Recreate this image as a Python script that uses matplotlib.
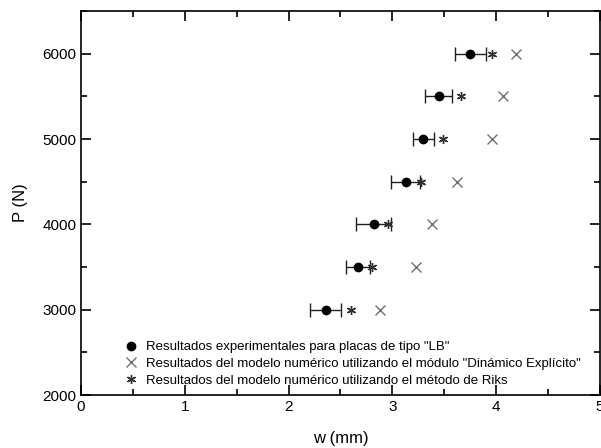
import matplotlib.pyplot as plt
from matplotlib.ticker import MultipleLocator

plt.rcParams['font.family'] = ['Liberation Sans', 'DejaVu Sans']

# load levels (N)
P = [3000, 3500, 4000, 4500, 5000, 5500, 6000]
# experimental deflection (mm) and its error
w_exp = [2.36, 2.67, 2.82, 3.13, 3.30, 3.45, 3.75]
w_err = [0.15, 0.12, 0.17, 0.14, 0.10, 0.13, 0.15]
# numerical: dynamic explicit
w_dyn = [2.88, 3.23, 3.38, 3.62, 3.96, 4.07, 4.19]
# numerical: Riks
w_riks = [2.60, 2.80, 2.96, 3.28, 3.49, 3.66, 3.96]

fig = plt.figure(figsize=(6.01, 4.48), dpi=100)
ax = fig.add_axes([0.1348, 0.1183, 0.8632, 0.8571])

ax.errorbar(w_exp, P, xerr=w_err, fmt='none', ecolor='#202020', elinewidth=1,
            capsize=5, capthick=1, zorder=2)
ax.plot(w_exp, P, 'o', color='black', markersize=6, linestyle='none', zorder=3,
        label='Resultados experimentales para placas de tipo "LB"')
ax.plot(w_dyn, P, 'x', color='#707070', markersize=6.5, markeredgewidth=1,
        linestyle='none', label='Resultados del modelo numérico utilizando el módulo "Dinámico Explícito"')
ax.plot(w_riks, P, marker=(6, 2, 0), color='#303030', markersize=6.5, markeredgewidth=1,
        linestyle='none', zorder=4, label='Resultados del modelo numérico utilizando el método de Riks')

ax.set_xlim(0, 5)
ax.set_ylim(2000, 6500)
ax.xaxis.set_major_locator(MultipleLocator(1))
ax.xaxis.set_minor_locator(MultipleLocator(0.5))
ax.yaxis.set_major_locator(MultipleLocator(1000))
ax.yaxis.set_minor_locator(MultipleLocator(500))
ax.tick_params(which='both', direction='in', top=True, right=True, width=1.2, labelsize=11)
ax.tick_params(which='major', length=7)
ax.tick_params(which='minor', length=4)
for s in ax.spines.values():
    s.set_linewidth(1.2)

ax.set_xlabel('w (mm)', fontsize=12, labelpad=12)
ax.set_ylabel('P (N)', fontsize=12, labelpad=10)

ax.legend(loc='lower left', bbox_to_anchor=(0.06, -0.01), frameon=False, fontsize=9.5,
          handletextpad=0.7, labelspacing=0.35, handlelength=1.0)

fig.savefig('out.png', dpi=100)
